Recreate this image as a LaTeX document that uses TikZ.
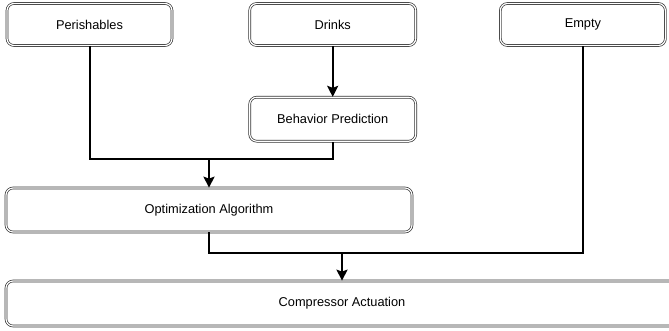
\documentclass[tikz,border=0pt]{standalone}
\usepackage{fontspec}
\setmainfont{Liberation Sans}
\usetikzlibrary{positioning,arrows.meta}

\tikzset{
  box/.style={draw=black!80, double, double distance=1.2pt, line width=0.7pt,
    rounded corners=7pt, minimum height=42pt, inner sep=0pt,
    font=\fontsize{12.8}{15}\selectfont},
  wire/.style={line width=2pt},
  arrow/.style={wire, -{Stealth[length=11pt,width=11pt,inset=2pt]}}
}

\begin{document}
\begin{tikzpicture}[x=1pt, y=-1pt]
        \clip (0,0) rectangle (669,330);
        \node[box, minimum width=165pt] (per) at (89.5,24.5) {Perishables};
        \node[box, minimum width=166pt, right=77pt of per] (drk) {Drinks};
        \node[box, minimum width=165pt, right=84pt of drk] (emp) {Empty};
        \node[box, minimum width=166pt, minimum height=44pt, below=51pt of drk] (beh) {Behavior Prediction};
        \node[box, minimum width=406pt, minimum height=44pt] (opt) at (209,210) {Optimization Algorithm};
        \node[box, minimum width=672pt, minimum height=45pt] (cmp) at (342,303.5) {Compressor Actuation};

        \coordinate (j1) at (opt.north |- 0,159);
        \coordinate (j2) at (cmp.north |- 0,253);

        \draw[arrow] (drk) -- (beh);
        \draw[wire] (per) |- (j1) -| (beh);
        \draw[arrow] (j1) -- (opt);
        \draw[wire] (opt) |- (j2) -| (emp);
        \draw[arrow] (j2) -- (cmp);
      \end{tikzpicture}
\end{document}
